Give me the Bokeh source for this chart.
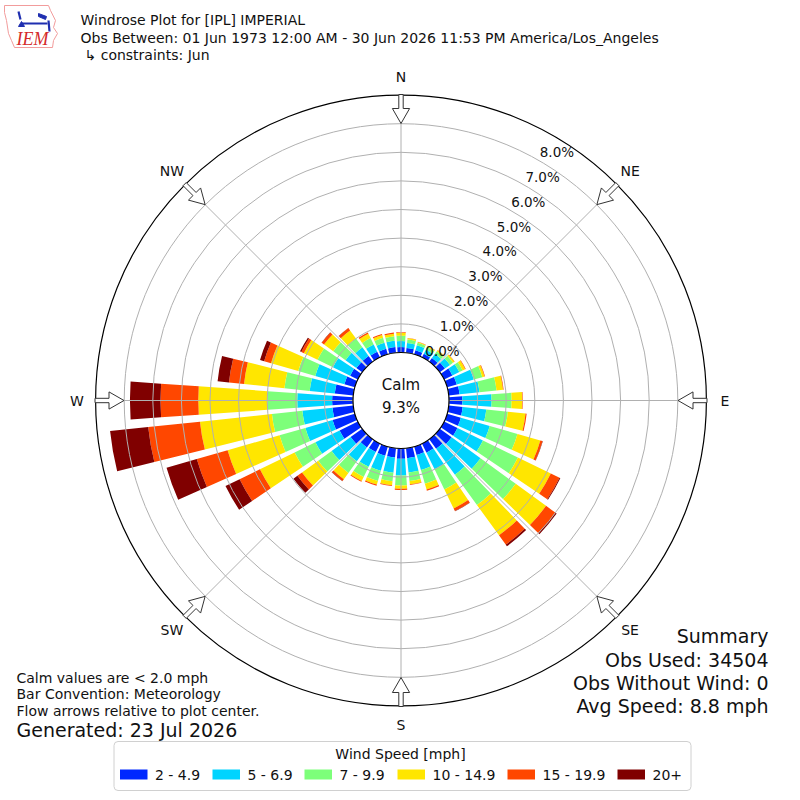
import numpy as np
from bokeh.plotting import figure
from bokeh.models import Range1d
from bokeh.core.properties import value
from bokeh.embed import file_html
from bokeh.resources import INLINE

# ---------------- data ----------------
directions = list(range(0, 360, 10))
speed_bins = ["2 - 4.9", "5 - 6.9", "7 - 9.9", "10 - 14.9", "15 - 19.9", "20+"]
bin_colors = ["#0028ff", "#00d4ff", "#7dff7a", "#ffe600", "#ff4700", "#800000"]

# percent of observations per direction (0, 10, ... 350 deg) for each speed bin
pct_2_4 = [0.19, 0.17, 0.15, 0.14, 0.16, 0.22, 0.32, 0.35, 0.38, 0.47, 0.49, 0.50,
           0.52, 0.51, 0.41, 0.35, 0.30, 0.35, 0.36, 0.33, 0.33, 0.33, 0.35, 0.50,
           0.71, 0.81, 0.73, 0.73, 0.65, 0.38, 0.30, 0.25, 0.25, 0.22, 0.20, 0.20]
pct_5_6 = [0.21, 0.17, 0.18, 0.16, 0.18, 0.22, 0.27, 0.62, 0.70, 1.02, 0.83, 1.05,
           0.99, 1.25, 1.12, 0.65, 0.55, 0.50, 0.58, 0.53, 0.55, 0.57, 0.60, 0.82,
           0.94, 0.99, 1.06, 1.22, 0.88, 1.06, 0.67, 0.47, 0.37, 0.28, 0.22, 0.22]
pct_7_9 = [0.19, 0.13, 0.09, 0.10, 0.11, 0.13, 0.13, 0.31, 0.60, 0.70, 0.76, 1.01,
           1.36, 1.52, 1.31, 0.78, 0.50, 0.30, 0.35, 0.30, 0.37, 0.40, 0.50, 0.58,
           0.81, 0.94, 1.07, 1.05, 0.89, 0.62, 0.60, 0.53, 0.38, 0.25, 0.18, 0.16]
pct_10_14 = [0.10, 0.04, 0.03, 0.04, 0.04, 0.06, 0.10, 0.08, 0.23, 0.37, 0.62, 0.83,
             1.28, 1.31, 1.31, 0.74, 0.21, 0.12, 0.12, 0.14, 0.13, 0.15, 0.27, 0.70,
             1.35, 1.89, 2.53, 2.41, 1.42, 0.99, 0.53, 0.40, 0.35, 0.17, 0.10, 0.09]
pct_15_19 = [0.02, 0.01, 0.01, 0.01, 0.01, 0.01, 0.02, 0.02, 0.02, 0.02, 0.04, 0.08,
             0.34, 0.41, 0.40, 0.10, 0.04, 0.02, 0.04, 0.03, 0.04, 0.03, 0.08, 0.20,
             0.79, 1.12, 1.82, 1.32, 0.53, 0.25, 0.10, 0.10, 0.10, 0.05, 0.04, 0.04]
pct_20p = [0.00, 0.00, 0.00, 0.00, 0.00, 0.00, 0.00, 0.00, 0.00, 0.00, 0.00, 0.01,
           0.03, 0.05, 0.07, 0.01, 0.00, 0.00, 0.00, 0.00, 0.00, 0.00, 0.01, 0.17,
           0.55, 1.10, 1.34, 1.07, 0.40, 0.15, 0.05, 0.01, 0.01, 0.00, 0.00, 0.00]
series = [pct_2_4, pct_5_6, pct_7_9, pct_10_14, pct_15_19, pct_20p]

calm_pct = 9.3
ring_ticks = [0, 1, 2, 3, 4, 5, 6, 7, 8]
ring_labels = ["0.0%", "1.0%", "2.0%", "3.0%", "4.0%", "5.0%", "6.0%", "7.0%", "8.0%"]
r_max = 9
compass_names = ["N", "NE", "E", "SE", "S", "SW", "W", "NW"]
compass_deg = [0, 45, 90, 135, 180, 225, 270, 315]

title_lines = ["Windrose Plot for [IPL] IMPERIAL",
               "Obs Between: 01 Jun 1973 12:00 AM - 30 Jun 2026 11:53 PM America/Los_Angeles",
               "\u21b3 constraints: Jun"]
notes = ["Calm values are < 2.0 mph", "Bar Convention: Meteorology",
         "Flow arrows relative to plot center."]
generated = "Generated: 23 Jul 2026"
summary = ["Summary", "Obs Used: 34504", "Obs Without Wind: 0", "Avg Speed: 8.8 mph"]
legend_title = "Wind Speed [mph]"

# ---------------- geometry ----------------
CX, CY = 400.5, 400.0     # centre (data units = pixels, y up)
R0 = 48.0                  # calm hole radius (0 %)
K = 28.6                   # pixels per percent
FONT = value("DejaVu Sans")
TXT = "#111111"


def rr(v):
    return R0 + K * np.asarray(v, dtype=float)


def sy(y_screen):
    return 800.0 - np.asarray(y_screen, dtype=float)


p = figure(width=800, height=800, output_backend="svg", toolbar_location=None,
           x_range=Range1d(0, 800), y_range=Range1d(0, 800), min_border=0)
p.axis.visible = False
p.grid.visible = False
p.outline_line_color = None
p.background_fill_color = "white"

# ---------------- bars ----------------
dirs = np.array(directions, dtype=float)
start = np.radians(90 - dirs - 4.0)
end = np.radians(90 - dirs + 4.0)
cum = np.zeros(len(dirs))
for vals, col in zip(series, bin_colors):
    v = np.array(vals)
    lo = cum.copy()
    cum = cum + v
    p.annular_wedge(x=CX, y=CY, inner_radius=rr(lo), outer_radius=rr(cum),
                    start_angle=start, end_angle=end, fill_color=col,
                    line_color=None)

# ---------------- grid ----------------
for t in ring_ticks:
    p.circle(x=CX, y=CY, radius=float(rr(t)), fill_color=None,
             line_color="#b0b0b0", line_width=1)
ang = np.radians(90 - np.array(compass_deg, dtype=float))
p.segment(x0=CX + R0 * np.cos(ang), y0=CY + R0 * np.sin(ang),
          x1=CX + float(rr(r_max)) * np.cos(ang), y1=CY + float(rr(r_max)) * np.sin(ang),
          line_color="#b0b0b0", line_width=1)
p.circle(x=CX, y=CY, radius=float(rr(r_max)), fill_color=None,
         line_color="black", line_width=1.2)

# calm hole
p.circle(x=CX, y=CY, radius=R0, fill_color="white", line_color="black", line_width=1.2)
p.text(x=[CX, CX], y=sy([384, 407]), text=["Calm", "%.1f%%" % calm_pct],
       text_font=FONT, text_font_size="15px", text_align="center",
       text_baseline="middle", text_color=TXT)

# radial labels along 30 deg
la = np.radians(30)
lr = rr(ring_ticks)
p.text(x=CX + lr * np.sin(la) + 17.5, y=CY + lr * np.cos(la) + 8.4, text=ring_labels,
       text_font=FONT, text_font_size="13.5px", text_align="center",
       text_baseline="middle", text_color=TXT)

# ---------------- compass arrows & labels ----------------
xs, ys = [], []
shape = [(277, 0), (292, 8.6), (292, 2.2), (306, 2.2), (306, -2.2), (292, -2.2), (292, -8.6)]
for d in compass_deg:
    th = np.radians(d)
    ux, uy = np.sin(th), np.cos(th)
    px_, py_ = -uy, ux
    xs.append([CX + a * ux + b * px_ for a, b in shape])
    ys.append([CY + a * uy + b * py_ for a, b in shape])
p.patches(xs, ys, fill_color="white", line_color="#333333", line_width=1)
cd = np.radians(np.array(compass_deg, dtype=float))
p.text(x=CX + 324 * np.sin(cd), y=CY + 324 * np.cos(cd), text=compass_names,
       text_font=FONT, text_font_size="14px", text_align="center",
       text_baseline="middle", text_color=TXT)

# ---------------- header ----------------
p.text(x=[80, 80, 84], y=sy([19, 37, 54]), text=title_lines, text_font=FONT,
       text_font_size="14px", text_align="left", text_baseline="middle",
       text_color=TXT)

# logo (approximation of IEM logo)
iowa_x = [4, 48, 50, 55, 53, 57, 53, 52, 14, 11, 8, 6, 4]
iowa_y = [5, 5, 10, 20, 27, 33, 40, 47, 47, 40, 33, 20, 12]
p.patch([float(v) for v in iowa_x], list(sy(iowa_y)), fill_color="white",
        line_color="#f29c9c", line_width=1)
p.multi_line(xs=[[21, 47], [18, 20], [48, 49]],
             ys=[list(sy([23, 23])), list(sy([11, 19])), list(sy([20, 31]))],
             line_color="#1f2fb0", line_width=2.2)
p.patch([38.0, 46.0, 45.0, 38.0], list(sy([13, 16, 19, 16])), fill_color="#1f2fb0",
        line_color="#1f2fb0")
p.patch([18.0, 21.0, 24.0], list(sy([26, 21, 26])), fill_color="#1f2fb0",
        line_color="#1f2fb0")
p.text(x=[16], y=sy([38]), text=["IEM"], text_font=value("Liberation Serif"),
       text_font_style="italic", text_font_size="18px", text_align="left",
       text_baseline="middle", text_color="#d42a2a")

# ---------------- notes ----------------
p.text(x=[16, 16, 16], y=sy([677, 693, 710]), text=notes, text_font=FONT,
       text_font_size="14px", text_align="left", text_baseline="middle",
       text_color=TXT)
p.text(x=[16], y=sy([729]), text=[generated], text_font=FONT, text_font_size="19px",
       text_align="left", text_baseline="middle", text_color=TXT)
p.text(x=[768] * 4, y=sy([635, 659, 682, 705]), text=summary, text_font=FONT,
       text_font_size="19px", text_align="right", text_baseline="middle",
       text_color=TXT)

# ---------------- legend ----------------
p.quad(left=113.5, right=690.5, top=sy(741), bottom=sy(790), fill_color="white",
       line_color="#d0d0d0", line_width=1, border_radius=4)
p.text(x=[400], y=sy([753]), text=[legend_title], text_font=FONT, text_font_size="14px",
       text_align="center", text_baseline="middle", text_color=TXT)
patch_left = [119.5, 212, 304, 397, 507, 617]
p.quad(left=patch_left, right=[v + 27.5 for v in patch_left], top=sy(769), bottom=sy(779),
       fill_color=bin_colors, line_color=None)
p.text(x=[v + 35 for v in patch_left], y=sy([774] * 6), text=speed_bins, text_font=FONT,
       text_font_size="14px", text_align="left", text_baseline="middle",
       text_color=TXT)

open("out.html", "w").write(file_html(p, INLINE))
